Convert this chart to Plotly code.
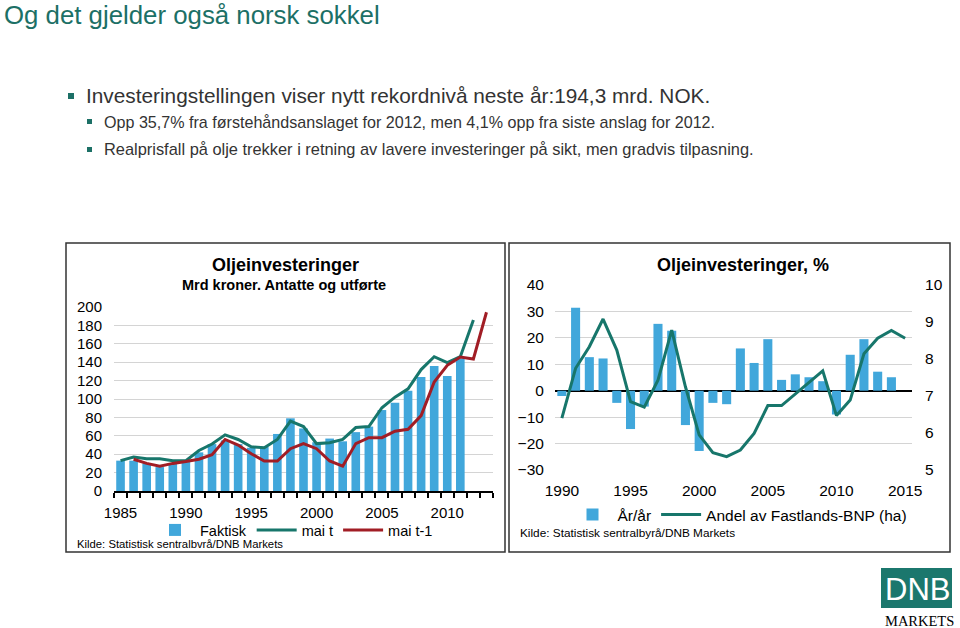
import plotly.graph_objects as go

# ---------------- data ----------------
faktisk_years = list(range(1985, 2012))
faktisk = [33, 33, 30, 26, 30, 32, 42, 51, 55, 51, 47, 48, 62, 79, 68, 53, 57, 54, 64, 70,
           88, 96, 109, 124, 136, 125, 144]
mai_t_years = list(range(1985, 2013))
mai_t = [33, 37, 35, 35, 33, 33, 44, 51, 61, 56, 48, 47, 56, 76, 70, 51.5, 52.5, 56, 69, 70,
         90.5, 102, 111, 132, 146, 139.5, 146, 186]
mai_t1_years = list(range(1986, 2014))
mai_t1 = [34.5, 30, 27, 30, 32, 34.5, 39.5, 56, 50, 40.5, 32.6, 32.6, 46, 51.5, 46, 32.6, 27,
          51.5, 58, 58, 65, 67, 82, 118.5, 136.6, 145.6, 143.5, 194.3]

aar_years = list(range(1990, 2015))
aar_aar = [-2, 31.4, 12.7, 12.2, -4.6, -14.5, -6, 25.3, 22.7, -13, -22.8, -4.6, -5.1, 16, 10.5,
           19.5, 4.1, 6.2, 5.1, 3.6, -9, 13.6, 19.5, 7.2, 5.1]
andel_years = list(range(1990, 2016))
andel = [6.4, 7.75, 8.33, 9.08, 8.24, 6.85, 6.7, 7.43, 8.78, 7.25, 5.95, 5.47, 5.36, 5.54, 5.99,
         6.74, 6.74, 7.05, 7.36, 7.68, 6.47, 6.89, 8.14, 8.56, 8.77, 8.56]

left_xticks = [1985, 1990, 1995, 2000, 2005, 2010]
right_xticks = [1990, 1995, 2000, 2005, 2010, 2015]

# ---------------- style ----------------
W, H = 960, 628
BLUE = "#41a7db"
TEAL = "#17766b"
RED = "#a11d25"
TITLE_TEAL = "#1c7066"
GRID = "#d4d4d4"
FONT = "Liberation Sans, Arial, sans-serif"


def px(x):
    return x / W


def py(y):
    return 1 - y / H


fig = go.Figure()

# left chart
fig.add_trace(go.Bar(x=faktisk_years, y=faktisk, name="Faktisk", marker_color=BLUE,
                     marker_line_width=0, xaxis="x", yaxis="y", legend="legend"))
fig.add_trace(go.Scatter(x=mai_t_years, y=mai_t, name="mai t", mode="lines",
                         line=dict(color=TEAL, width=3), xaxis="x", yaxis="y", legend="legend"))
fig.add_trace(go.Scatter(x=mai_t1_years, y=mai_t1, name="mai t-1", mode="lines",
                         line=dict(color=RED, width=3), xaxis="x", yaxis="y", legend="legend"))

# right chart
fig.add_trace(go.Bar(x=aar_years, y=aar_aar, name="År/år", marker_color=BLUE,
                     marker_line_width=0, xaxis="x2", yaxis="y2", legend="legend2"))
fig.add_trace(go.Scatter(x=andel_years, y=andel, name="Andel av Fastlands-BNP (ha)", mode="lines",
                         line=dict(color=TEAL, width=3), xaxis="x2", yaxis="y3", legend="legend2"))

L_X0, L_X1, L_Y0, L_Y1 = 114, 493, 307, 491
R_X0, R_X1, R_Y0, R_Y1 = 555, 912, 285, 470
zero_pos = py(R_Y1 - (R_Y1 - R_Y0) * 30 / 70)

tickfont = dict(family=FONT, size=15, color="black")
tickfont_r = dict(family=FONT, size=15.5, color="black")

zero_ticks = dict(overlaying="x2", anchor="free", position=zero_pos, range=[1989.5, 2015.5],
                  tickmode="linear", tick0=1989.5, dtick=1, tickwidth=1.5, tickcolor="black",
                  showticklabels=False, showline=False, showgrid=False, zeroline=False,
                  automargin=False)

fig.update_layout(
    width=W, height=H,
    margin=dict(l=0, r=0, t=0, b=0, pad=0, autoexpand=False),
    paper_bgcolor="white", plot_bgcolor="white",
    font=dict(family=FONT, color="black"),
    bargap=0.34,
    xaxis=dict(domain=[px(L_X0), px(L_X1)], anchor="y", range=[1984.5, 2013.5],
               tickmode="array", tickvals=left_xticks, ticks="outside", ticklen=7,
               tickcolor="rgba(0,0,0,0)", tickfont=tickfont, automargin=False,
               showline=True, linecolor="black", linewidth=2, showgrid=False, zeroline=False,
               minor=dict(tickmode="linear", tick0=1984.5, dtick=1, ticks="outside",
                          ticklen=5, tickwidth=1.5, tickcolor="black", showgrid=False)),
    yaxis=dict(domain=[py(L_Y1), py(L_Y0)], anchor="x", range=[0, 200], dtick=20,
               ticks="outside", ticklen=8, tickcolor="rgba(0,0,0,0)", tickfont=tickfont,
               automargin=False,
               showgrid=True, gridcolor=GRID, gridwidth=1, zeroline=False, showline=False),
    xaxis2=dict(domain=[px(R_X0), px(R_X1)], anchor="y2", range=[1989.5, 2015.5],
                tickmode="array", tickvals=right_xticks, ticks="outside", ticklen=6,
                tickcolor="rgba(0,0,0,0)", tickfont=tickfont_r, automargin=False,
                showline=False, showgrid=False, zeroline=False),
    xaxis3=dict(zero_ticks, ticks="outside", ticklen=5),
    xaxis4=dict(zero_ticks, ticks="inside", ticklen=3),
    yaxis2=dict(domain=[py(R_Y1), py(R_Y0)], anchor="x2", range=[-30, 40], dtick=10,
                ticks="outside", ticklen=7, tickcolor="rgba(0,0,0,0)", tickfont=tickfont_r,
                automargin=False,
                showgrid=True, gridcolor=GRID, zeroline=True, zerolinecolor="black",
                zerolinewidth=2, showline=False),
    yaxis3=dict(overlaying="y2", side="right", anchor="x2", range=[5, 10], dtick=1,
                ticks="outside", ticklen=9, tickcolor="rgba(0,0,0,0)", tickfont=tickfont_r,
                automargin=False,
                showgrid=False, zeroline=False, showline=False),
    legend=dict(orientation="h", x=px(294), y=py(530), xanchor="center", yanchor="middle",
                font=dict(family=FONT, size=14.5, color="black"), itemwidth=40,
                bgcolor="rgba(0,0,0,0)"),
    legend2=dict(orientation="h", x=px(740), y=py(515), xanchor="center", yanchor="middle",
                 font=dict(family=FONT, size=15.5, color="black"), itemwidth=40,
                 bgcolor="rgba(0,0,0,0)"),
    showlegend=True,
)

shapes = []
# chart frames
shapes.append(dict(type="rect", xref="paper", yref="paper", x0=px(66), x1=px(505),
                   y0=py(552), y1=py(243), line=dict(color="#333333", width=1.5)))
shapes.append(dict(type="rect", xref="paper", yref="paper", x0=px(509), x1=px(950),
                   y0=py(552), y1=py(243), line=dict(color="#333333", width=1.5)))
# bullet squares
for (bx0, by0, s) in [(68, 93, 6), (87, 119, 5), (87, 147, 5)]:
    shapes.append(dict(type="rect", xref="paper", yref="paper", x0=px(bx0), x1=px(bx0 + s),
                       y0=py(by0 + s), y1=py(by0), fillcolor=TITLE_TEAL, line=dict(width=0)))
# DNB logo box
shapes.append(dict(type="rect", xref="paper", yref="paper", x0=px(881), x1=px(952),
                   y0=py(608), y1=py(568), fillcolor="#1b776d", line=dict(width=0)))
fig.update_layout(shapes=shapes)

ann = []


def text(t, x, y, size, color="black", bold=False, xanchor="left", family=FONT):
    ann.append(dict(text=("<b>%s</b>" % t) if bold else t, x=px(x), y=py(y), xref="paper",
                    yref="paper", xanchor=xanchor, yanchor="middle", showarrow=False,
                    font=dict(family=family, size=size, color=color)))


text("Og det gjelder også norsk sokkel", 2, 15, 25.8, color=TITLE_TEAL)
text("Investeringstellingen viser nytt rekordnivå neste år:194,3 mrd. NOK.", 84, 96, 20.8,
     color="#333333")
text("Opp 35,7% fra førstehåndsanslaget for 2012, men 4,1% opp fra siste anslag for 2012.", 102,
     122, 16.1, color="#333333")
text("Realprisfall på olje trekker i retning av lavere investeringer på sikt, men gradvis tilpasning.",
     102, 149, 16.4, color="#333333")

text("Oljeinvesteringer", 285, 265, 18, bold=True, xanchor="center")
text("Mrd kroner. Antatte og utførte", 284, 285, 14.5, bold=True, xanchor="center")
text("Kilde: Statistisk sentralbvrå/DNB Markets", 75, 544, 11.3)

text("Oljeinvesteringer, %", 743, 265, 18, bold=True, xanchor="center")
text("Kilde: Statistisk sentralbyrå/DNB Markets", 518, 533, 11.8)

text("DNB", 917, 589, 31, color="white", xanchor="center")
text("MARKETS", 919, 621, 14.5, xanchor="center", family="Liberation Serif, DejaVu Serif, serif")

fig.update_layout(annotations=ann)

fig.write_html("out.html", config={"displayModeBar": False},
               post_script="document.body.style.margin='0px';document.body.style.overflow='hidden';")
